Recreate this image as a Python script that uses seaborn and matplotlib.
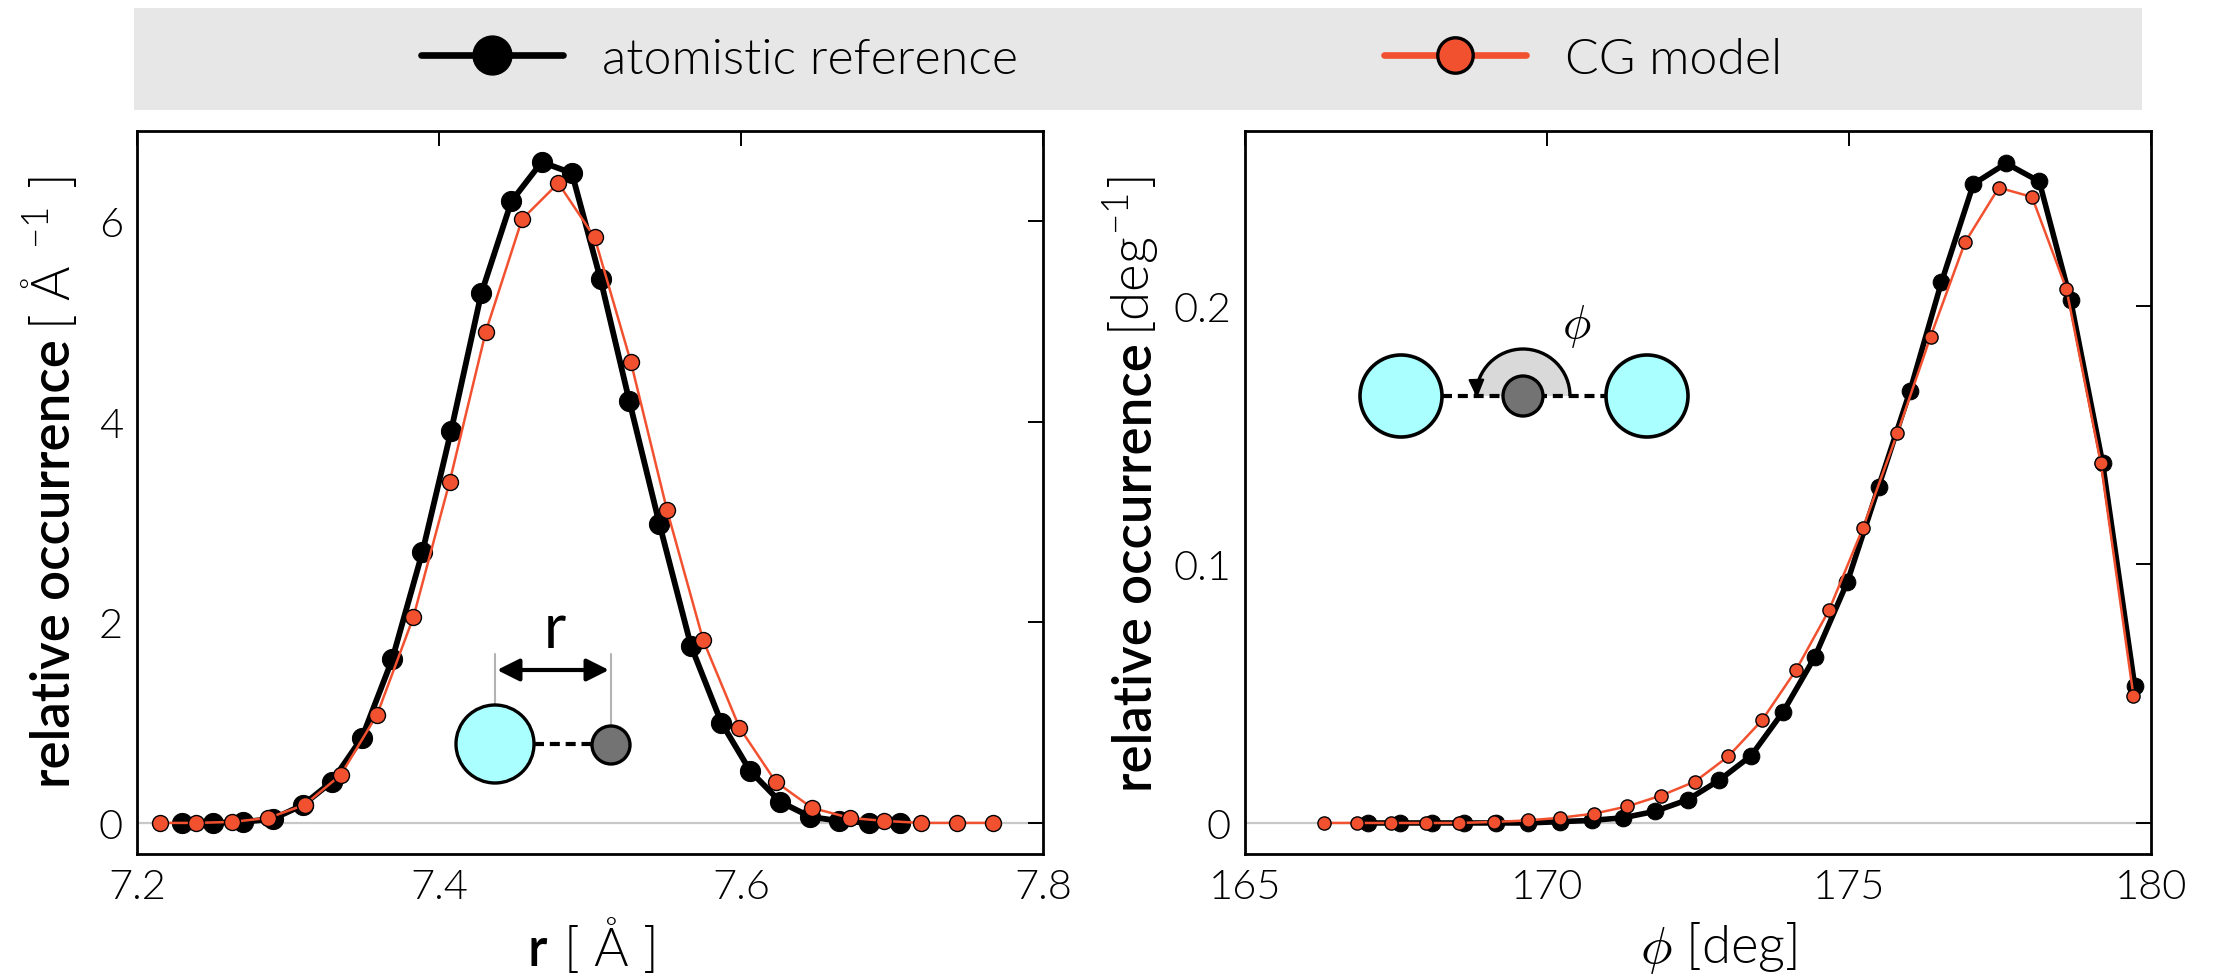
import numpy as np
import pandas as pd
import matplotlib
matplotlib.use("Agg")
import matplotlib.pyplot as plt
import seaborn as sns
from matplotlib.lines import Line2D
from matplotlib.patches import Circle, Wedge, Arc, FancyArrowPatch

# ---------------- data ----------------
r_ref = [7.230, 7.250, 7.270, 7.290, 7.310, 7.329, 7.349, 7.369, 7.389, 7.408,
         7.428, 7.448, 7.468, 7.488, 7.507, 7.526, 7.546, 7.567, 7.587, 7.606,
         7.626, 7.646, 7.665, 7.685, 7.705]
p_ref = [0.00, 0.00, 0.01, 0.04, 0.18, 0.41, 0.85, 1.63, 2.70, 3.91,
         5.28, 6.20, 6.59, 6.48, 5.42, 4.21, 2.98, 1.76, 1.00, 0.52,
         0.21, 0.06, 0.02, 0.00, 0.00]

r_cg = [7.215, 7.239, 7.263, 7.287, 7.311, 7.335, 7.359, 7.383, 7.407, 7.431,
        7.455, 7.479, 7.503, 7.527, 7.551, 7.575, 7.599, 7.623, 7.647, 7.672,
        7.695, 7.719, 7.743, 7.767]
p_cg = [0.00, 0.00, 0.01, 0.05, 0.18, 0.48, 1.08, 2.05, 3.40, 4.90,
        6.02, 6.38, 5.84, 4.60, 3.12, 1.82, 0.95, 0.41, 0.15, 0.05,
        0.02, 0.00, 0.00, 0.00]

phi_ref = [167.04, 167.56, 168.10, 168.62, 169.15, 169.69, 170.21, 170.74, 171.26, 171.79,
           172.33, 172.85, 173.38, 173.91, 174.43, 174.97, 175.49, 176.01, 176.53, 177.06,
           177.60, 178.15, 178.67, 179.20, 179.73]
pphi_ref = [0.0, 0.0, 0.0, 0.0, 0.0, 0.0, 0.0005, 0.001, 0.002, 0.0045,
            0.009, 0.0165, 0.026, 0.043, 0.064, 0.093, 0.130, 0.167, 0.209, 0.247,
            0.255, 0.248, 0.202, 0.139, 0.053]

phi_cg = [166.30, 166.85, 167.42, 167.99, 168.55, 169.12, 169.69, 170.21, 170.78, 171.33,
          171.89, 172.45, 173.00, 173.56, 174.12, 174.67, 175.23, 175.80, 176.35, 176.92,
          177.48, 178.03, 178.60, 179.17, 179.71]
pphi_cg = [0.0, 0.0, 0.0, 0.0, 0.0, 0.0004, 0.001, 0.002, 0.0036, 0.0064,
           0.0106, 0.016, 0.0257, 0.0397, 0.059, 0.0823, 0.114, 0.1506, 0.188, 0.2244,
           0.2456, 0.242, 0.2064, 0.139, 0.049]

series_labels = ["atomistic reference", "CG model"]
r_xticks = [7.2, 7.4, 7.6, 7.8]
r_xticklabels = ["7.2", "7.4", "7.6", "7.8"]
r_yticks = [0, 2, 4, 6]
r_yticklabels = ["0", "2", "4", "6"]
phi_xticks = [165, 170, 175, 180]
phi_xticklabels = ["165", "170", "175", "180"]
phi_yticks = [0, 0.1, 0.2]
phi_yticklabels = ["0", "0.1", "0.2"]

# ---------------- style ----------------
sns.set_theme(style="white")
plt.rcParams['font.family'] = ['Lato', 'DejaVu Sans']
plt.rcParams['mathtext.fontset'] = 'cm'
plt.rcParams['text.color'] = 'black'
plt.rcParams['axes.labelcolor'] = 'black'

RED = "#f25130"
CYAN = "#aaffff"
W, H, DPI = 2213, 978, 100
TICK_FS = 30
LAB_FS = 38
LEG_FS = 36
LIGHT = 300
SEMI = 600

fig = plt.figure(figsize=(W / DPI, H / DPI), dpi=DPI, facecolor="white")


def rect(x0, y0, x1, y1):
    return [x0 / W, 1 - y1 / H, (x1 - x0) / W, (y1 - y0) / H]


ax1 = fig.add_axes(rect(137, 132, 1043, 855))
ax2 = fig.add_axes(rect(1245, 132, 2151, 855))

df_r_ref = pd.DataFrame({"x": r_ref, "y": p_ref})
df_r_cg = pd.DataFrame({"x": r_cg, "y": p_cg})
df_p_ref = pd.DataFrame({"x": phi_ref, "y": pphi_ref})
df_p_cg = pd.DataFrame({"x": phi_cg, "y": pphi_cg})

for ax, dref, dcg, ms_ref, ms_cg, lw_ref in [(ax1, df_r_ref, df_r_cg, 14.5, 11.5, 4.2),
                                              (ax2, df_p_ref, df_p_cg, 12.0, 9.5, 4.0)]:
    ax.axhline(0, color="#c8c8c8", lw=1.6, zorder=0.5)
    sns.lineplot(data=dref, x="x", y="y", ax=ax, color="black", lw=lw_ref,
                 marker="o", markersize=ms_ref, markerfacecolor="black",
                 markeredgecolor="black", estimator=None, sort=False, zorder=2)
    sns.lineplot(data=dcg, x="x", y="y", ax=ax, color=RED, lw=1.8,
                 marker="o", markersize=ms_cg, markerfacecolor=RED,
                 markeredgecolor="black", markeredgewidth=1.0,
                 estimator=None, sort=False, zorder=3)

ax1.set_xlim(7.2, 7.8)
ax1.set_ylim(-0.31, 6.9)
ax2.set_xlim(165, 180)
ax2.set_ylim(-0.012, 0.2675)
ax1.set_xticks(r_xticks, r_xticklabels, fontweight=LIGHT)
ax1.set_yticks(r_yticks, r_yticklabels, fontweight=LIGHT)
ax2.set_xticks(phi_xticks, phi_xticklabels, fontweight=LIGHT)
ax2.set_yticks(phi_yticks, phi_yticklabels, fontweight=LIGHT)

for ax in (ax1, ax2):
    ax.tick_params(direction="in", length=11, width=1.4, top=True, right=True,
                   labelsize=TICK_FS, pad=10, colors="black")
    for s in ax.spines.values():
        s.set_linewidth(2.0)
        s.set_color("black")
        s.set_visible(True)

# axis labels
yl1 = ax1.set_ylabel("relative occurrence", fontsize=LAB_FS, fontweight=SEMI)
yl2 = ax2.set_ylabel("relative occurrence", fontsize=LAB_FS, fontweight=SEMI)
yb1 = ax1.annotate(r"[ Å $^{\mathregular{-1}}$ ]", xy=(1, 1), xycoords=yl1,
                   xytext=(0, 6), textcoords="offset points", rotation=90,
                   ha="right", va="bottom", fontsize=LAB_FS, fontweight=LIGHT)
yb2 = ax2.annotate(r"[deg$^{\mathregular{-1}}$]", xy=(1, 1), xycoords=yl2,
                   xytext=(0, 5), textcoords="offset points", rotation=90,
                   ha="right", va="bottom", fontsize=LAB_FS, fontweight=LIGHT)
xl1 = ax1.set_xlabel("r", fontsize=LAB_FS, fontweight=SEMI)
xb1 = ax1.annotate("[ Å ]", xy=(1, 0), xycoords=xl1, xytext=(12, 0),
                   textcoords="offset points", ha="left", va="bottom",
                   fontsize=LAB_FS, fontweight=LIGHT)
xl2 = ax2.set_xlabel(r"$\phi$ [deg]", fontsize=LAB_FS, fontweight=LIGHT)

for lab in (yl1, yl2, xl1, xl2):
    lab.set_va("baseline")

# ---------------- legend band ----------------
ax_leg = fig.add_axes(rect(134, 9, 2142, 111))
ax_leg.set_facecolor("#e7e7e7")
ax_leg.set_xticks([])
ax_leg.set_yticks([])
for s in ax_leg.spines.values():
    s.set_visible(False)

h_ref = Line2D([], [], color="black", lw=4.8, marker="o", markersize=28,
               markerfacecolor="black", markeredgecolor="black")
h_cg = Line2D([], [], color=RED, lw=4.8, marker="o", markersize=25.5,
              markerfacecolor=RED, markeredgecolor="black", markeredgewidth=2.4)
fs_px = LEG_FS * DPI / 72
common = dict(loc="center left", frameon=False, borderpad=0, borderaxespad=0,
              handlelength=142 / fs_px, handletextpad=39 / fs_px,
              prop={"size": LEG_FS, "weight": LIGHT})
leg1 = ax_leg.legend([h_ref], [series_labels[0]],
                     bbox_to_anchor=((421 - 134) / 2008, 0.5), **common)
ax_leg.add_artist(leg1)
leg2 = ax_leg.legend([h_cg], [series_labels[1]],
                     bbox_to_anchor=((1384 - 134) / 2008, 0.5), **common)
for leg in (leg1, leg2):
    for t in leg.get_texts():
        t.set_color("black")

# ---------------- schematic insets (pixel overlay) ----------------
ov = fig.add_axes([0, 0, 1, 1])
ov.set_xlim(0, W)
ov.set_ylim(H, 0)
ov.axis("off")
ov.set_zorder(10)

# bond inset
ov.plot([495, 495], [655, 706], color="#b3b3b3", lw=1.5, zorder=1)
ov.plot([611, 611], [655, 727], color="#b3b3b3", lw=1.5, zorder=1)
ov.add_patch(FancyArrowPatch((497, 671), (609, 671),
                             arrowstyle="<|-|>,head_length=0.9,head_width=0.45",
                             mutation_scale=15, lw=3, color="black",
                             shrinkA=0, shrinkB=0, zorder=2))
ov.plot([534, 592], [745, 745], color="black", lw=3, ls=(0, (2.4, 1.4)), zorder=2)
ov.add_patch(Circle((495, 745), 39, fc=CYAN, ec="black", lw=2.4, zorder=3))
ov.add_patch(Circle((611, 746), 19, fc="#737373", ec="black", lw=2.4, zorder=3))
ov.text(555, 630, "r", fontsize=44, ha="center", va="center")

# angle inset
ov.add_patch(Wedge((1523, 397), 47, 180, 360, fc="#d9d9d9", ec="none", zorder=1))
ov.plot([1442, 1606], [397, 397], color="black", lw=3, ls=(0, (2.4, 1.4)), zorder=2)
ov.add_patch(Arc((1523, 397), 94, 94, theta1=180, theta2=360, lw=2.4,
                 color="black", zorder=3))
ov.annotate("", xy=(1477, 399), xytext=(1476.5, 384),
            arrowprops=dict(arrowstyle="-|>,head_length=0.8,head_width=0.35",
                            mutation_scale=14, lw=1.5, color="black",
                            shrinkA=0, shrinkB=0), zorder=3)
ov.add_patch(Circle((1401, 397), 41, fc=CYAN, ec="black", lw=2.6, zorder=3))
ov.add_patch(Circle((1647, 397), 41, fc=CYAN, ec="black", lw=2.6, zorder=3))
ov.add_patch(Circle((1523, 397), 20, fc="#737373", ec="black", lw=2.4, zorder=4))
ov.text(1577, 327, r"$\phi$", fontsize=34, ha="center", va="center")

# ---------------- label placement from measured text sizes ----------------
fig.canvas.draw()
rend = fig.canvas.get_renderer()
AX_B = H - 855
AX_H = 723
AX_W = 906


def place_ylabel(ax, yl, yb, x_px, center_top_px, gap_pt):
    L = yl.get_window_extent(rend).height
    Lb = yb.get_window_extent(rend).height
    gap = gap_pt * DPI / 72
    total = L + gap + Lb
    center_disp = H - center_top_px
    bold_center = center_disp - total / 2 + L / 2
    ax_left = ax.get_position().x0 * W
    ax.yaxis.set_label_coords((x_px - ax_left) / AX_W, (bold_center - AX_B) / AX_H)


place_ylabel(ax1, yl1, yb1, 70, 482, 6)
place_ylabel(ax2, yl2, yb2, 1152, 484, 5)

wr = xl1.get_window_extent(rend).width
wb = xb1.get_window_extent(rend).width
gap = 12 * DPI / 72
tot = wr + gap + wb
cx = 593 - tot / 2 + wr / 2
ax1.xaxis.set_label_coords((cx - 137) / AX_W, (855 - 966) / AX_H)
ax2.xaxis.set_label_coords((1719 - 1245) / AX_W, (855 - 963) / AX_H)

fig.savefig("out.png", dpi=DPI, facecolor="white")
